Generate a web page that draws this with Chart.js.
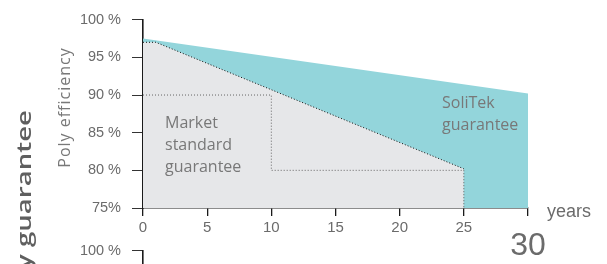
<!DOCTYPE html>
<html lang="en">
<head>
<meta charset="UTF-8">
<title>Poly efficiency guarantee</title>
<script src="https://cdn.jsdelivr.net/npm/chart.js"></script>
<style>
  html, body { margin: 0; padding: 0; background: #fff; overflow: hidden; }
  .wrap { position: relative; width: 607px; height: 264px; overflow: hidden; }
  canvas { position: absolute; left: 0; }
  #main { top: 0; }
  #next { top: 231px; }
</style>
</head>
<body>
<div class="wrap">
  <canvas id="next" width="607" height="264"></canvas>
  <canvas id="main" width="607" height="264"></canvas>
</div>
<script>
// x axis ticks (years)
const yearTicks = [0, 5, 10, 15, 20, 25, 30];
// y axis tick labels
const yTickValues = [75, 80, 85, 90, 95, 100];
const yTickLabels = ['75%', '80 %', '85 %', '90 %', '95 %', '100 %'];

// SoliTek guarantee (upper teal area)
const soliYears = [0, 30];
const soliValues = [97.5, 90.2];

// Market standard guarantee (grey area)
const marketYears = [0, 1, 25, 25];
const marketValues = [97, 97, 80.2, 75];

// stepped dotted guide line
const stepYears = [0, 10, 10, 25, 25];
const stepValues = [90, 90, 80, 80, 75];

const tickColor = '#6b6b6b';
const textColor = '#787878';

function pts(xs, ys) { return xs.map((x, i) => ({ x: x, y: ys[i] })); }

function yScale() {
  return {
    type: 'linear', min: 75, max: 100, z: 1,
    afterFit: s => { s.width = 143; },
    afterBuildTicks: s => { s.ticks = yTickValues.map(v => ({ value: v })); },
    grid: { drawOnChartArea: false, drawTicks: true, tickLength: 11, color: '#333', lineWidth: 1 },
    border: { display: true, color: '#1a1a1a', width: 1.6 },
    ticks: {
      padding: 11, color: tickColor,
      font: { family: 'Liberation Sans', size: 14.5 },
      callback: v => yTickLabels[yTickValues.indexOf(v)]
    }
  };
}

const annotations = {
  id: 'annotations',
  afterDraw(chart) {
    const ctx = chart.ctx;
    ctx.save();
    ctx.fillStyle = textColor;
    ctx.textAlign = 'left';
    ctx.textBaseline = 'alphabetic';
    ctx.font = '16px "Open Sans"';
    ['Market', 'standard', 'guarantee'].forEach((t, i) => ctx.fillText(t, 165, 128 + i * 22));
    ['SoliTek', 'guarantee'].forEach((t, i) => ctx.fillText(t, 442, 108 + i * 22));

    ctx.fillStyle = tickColor;
    ctx.font = '18px "Liberation Sans"';
    ctx.fillText('years', 547, 217);

    // axis title
    ctx.save();
    ctx.translate(70, 107.5);
    ctx.rotate(-Math.PI / 2);
    ctx.textAlign = 'center';
    ctx.font = '16px "Open Sans"';
    ctx.letterSpacing = '1px';
    ctx.fillStyle = textColor;
    ctx.fillText('Poly efficiency', 0, 0);
    ctx.restore();

    // section title on the left edge
    ctx.save();
    ctx.translate(31, 110);
    ctx.rotate(-Math.PI / 2);
    ctx.font = '600 20px "Open Sans"';
    const w = ctx.measureText('guarantee').width;
    ctx.scale(137 / w, 1);
    ctx.textAlign = 'right';
    ctx.fillStyle = '#5f5f5f';
    ctx.fillText('Efficiency guarantee', 0, 0);
    ctx.restore();
    ctx.restore();
  }
};

new Chart(document.getElementById('main'), {
  type: 'line',
  data: {
    datasets: [
      {
        data: pts(stepYears, stepValues),
        borderColor: '#666', borderWidth: 1, borderDash: [1, 2],
        pointRadius: 0, fill: false, tension: 0
      },
      {
        data: pts(marketYears, marketValues),
        backgroundColor: '#e6e7e9', fill: 'start',
        borderColor: '#111', borderWidth: 1, borderDash: [1, 2],
        segment: { borderColor: c => c.p1DataIndex === 3 ? 'rgba(0,0,0,0)' : '#111' },
        pointRadius: 0, tension: 0
      },
      {
        data: pts(soliYears, soliValues),
        backgroundColor: '#93d5db', fill: 'start',
        borderWidth: 0, pointRadius: 0, tension: 0
      }
    ]
  },
  options: {
    responsive: false, animation: false, devicePixelRatio: 1,
    layout: { padding: { left: 0, right: 79, top: 16, bottom: 0 } },
    plugins: { legend: { display: false }, tooltip: { enabled: false } },
    scales: {
      x: {
        type: 'linear', min: 0, max: 30, z: 1,
        afterFit: s => { s.height = 56; },
        afterBuildTicks: s => { s.ticks = yearTicks.map(v => ({ value: v })); },
        grid: { drawOnChartArea: false, drawTicks: true, tickLength: 8, color: '#1a1a1a', lineWidth: 1.3 },
        border: { display: true, color: '#1a1a1a', width: 1.6 },
        ticks: {
          padding: 3, color: tickColor, maxRotation: 0, autoSkip: false,
          font: c => c.tick && c.tick.value === 30
            ? { family: 'Liberation Sans', size: 32, lineHeight: 1.69 }
            : { family: 'Liberation Sans', size: 15 }
        }
      },
      y: yScale()
    }
  },
  plugins: [annotations]
});

// top of the next chart on the slide, mostly cut off
new Chart(document.getElementById('next'), {
  type: 'line',
  data: { datasets: [{ data: [], pointRadius: 0 }] },
  options: {
    responsive: false, animation: false, devicePixelRatio: 1,
    layout: { padding: { left: 0, right: 79, top: 16, bottom: 0 } },
    plugins: { legend: { display: false }, tooltip: { enabled: false } },
    scales: {
      x: { type: 'linear', min: 0, max: 30, display: false },
      y: yScale()
    }
  }
});
</script>
</body>
</html>
